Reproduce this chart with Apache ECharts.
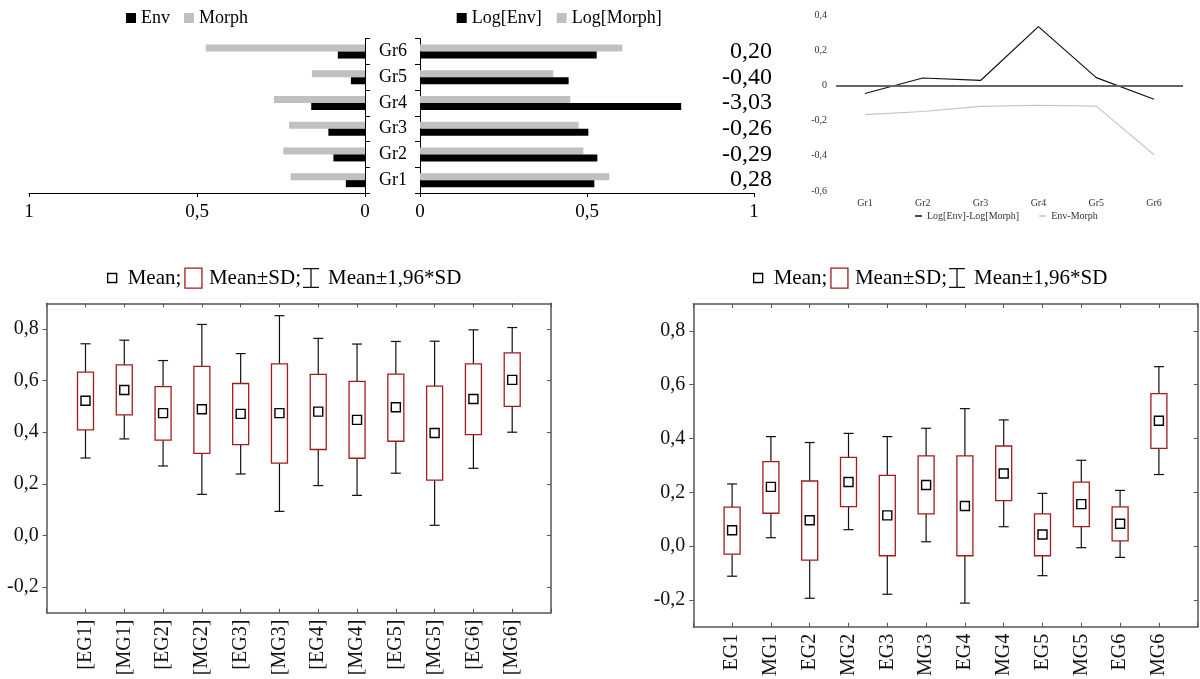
<!DOCTYPE html>
<html><head><meta charset="utf-8">
<script src="https://cdn.jsdelivr.net/npm/echarts@6/dist/echarts.min.js"></script>
<style>html,body{margin:0;padding:0;background:#fff}#c{width:1200px;height:679px}</style>
</head><body><div id="c"></div>
<script>
// ---------- DATA ----------
const groups = ['Gr1','Gr2','Gr3','Gr4','Gr5','Gr6'];
const envValues = [0.057,0.094,0.109,0.160,0.042,0.081];
const morphValues = [0.221,0.243,0.226,0.271,0.158,0.474];
const logEnvValues = [0.522,0.531,0.504,0.782,0.445,0.529];
const logMorphValues = [0.567,0.489,0.475,0.450,0.399,0.606];
const ratioLabels = ['0,28','-0,29','-0,26','-3,03','-0,40','0,20'];
const logDiffValues = [-0.046,0.042,0.028,0.334,0.044,-0.079];
const diffValues = [-0.166,-0.148,-0.119,-0.113,-0.118,-0.394];

const leftCats = ['[EG1]','[MG1]','[EG2]','[MG2]','[EG3]','[MG3]','[EG4]','[MG4]','[EG5]','[MG5]','[EG6]','[MG6]'];
const leftMean   = [0.522,0.564,0.474,0.489,0.471,0.474,0.480,0.448,0.497,0.397,0.529,0.603];
const leftSdLow  = [0.409,0.467,0.369,0.318,0.352,0.280,0.333,0.299,0.365,0.214,0.391,0.500];
const leftSdHigh = [0.633,0.661,0.577,0.655,0.589,0.665,0.624,0.597,0.625,0.579,0.665,0.708];
const leftCiLow  = [0.300,0.374,0.269,0.159,0.238,0.093,0.193,0.155,0.241,0.039,0.260,0.400];
const leftCiHigh = [0.743,0.757,0.678,0.818,0.705,0.852,0.764,0.742,0.752,0.753,0.797,0.806];

const rightCats = ['EG1','MG1','EG2','MG2','EG3','MG3','EG4','MG4','EG5','MG5','EG6','MG6'];
const rightMean   = [0.059,0.220,0.096,0.238,0.114,0.227,0.149,0.270,0.043,0.156,0.083,0.466];
const rightSdLow  = [-0.030,0.122,-0.052,0.147,-0.036,0.120,-0.036,0.169,-0.036,0.072,0.019,0.363];
const rightSdHigh = [0.145,0.314,0.242,0.330,0.263,0.335,0.335,0.372,0.120,0.238,0.146,0.567];
const rightCiLow  = [-0.112,0.031,-0.194,0.061,-0.179,0.016,-0.212,0.072,-0.110,-0.006,-0.042,0.266];
const rightCiHigh = [0.231,0.407,0.385,0.419,0.407,0.438,0.511,0.469,0.196,0.319,0.207,0.667];

const boxTicks = [-0.2,0,0.2,0.4,0.6,0.8];

// ---------- HELPERS ----------
const FONT = 'Liberation Serif';
const comma = v => String(+(+v).toFixed(2)).replace('.', ',');
const comma1 = v => (+v).toFixed(1).replace('.', ',');
const FRAME = '#555';
const BOXRED = '#a31c1c';

function whiskerItem(params, api) {
  const x = api.value(0);
  const lo = api.coord([x, api.value(1)]);
  const sdLo = api.coord([x, api.value(2)]);
  const sdHi = api.coord([x, api.value(3)]);
  const hi = api.coord([x, api.value(4)]);
  const c = 5;
  const st = {stroke:'#111', lineWidth:1.2};
  return {type:'group', children:[
    {type:'line', shape:{x1:hi[0],y1:hi[1],x2:sdHi[0],y2:sdHi[1]}, style:st},
    {type:'line', shape:{x1:lo[0],y1:lo[1],x2:sdLo[0],y2:sdLo[1]}, style:st},
    {type:'line', shape:{x1:hi[0]-c,y1:hi[1],x2:hi[0]+c,y2:hi[1]}, style:st},
    {type:'line', shape:{x1:lo[0]-c,y1:lo[1],x2:lo[0]+c,y2:lo[1]}, style:st}
  ]};
}
function boxItem(params, api) {
  const x = api.value(0);
  const a = api.coord([x, api.value(1)]);
  const b = api.coord([x, api.value(2)]);
  const w = 16;
  return {type:'rect', shape:{x:a[0]-w/2, y:b[1], width:w, height:a[1]-b[1]},
    style:{fill:'#fff', stroke:BOXRED, lineWidth:1.3}};
}

function boxSeries(cats, ciLo, sdLo, sdHi, ciHi, mean, xi, yi) {
  return [
    {type:'custom', name:'Mean±1,96*SD', xAxisIndex:xi, yAxisIndex:yi, z:2,
     renderItem: whiskerItem, encode:{x:0, y:[1,2,3,4]},
     data: cats.map((c,i)=>[c, ciLo[i], sdLo[i], sdHi[i], ciHi[i]])},
    {type:'custom', name:'Mean±SD;', xAxisIndex:xi, yAxisIndex:yi, z:3,
     renderItem: boxItem, encode:{x:0, y:[1,2]},
     data: cats.map((c,i)=>[c, sdLo[i], sdHi[i]])},
    {type:'scatter', name:'Mean;', xAxisIndex:xi, yAxisIndex:yi, z:4,
     symbol:'rect', symbolSize:9,
     itemStyle:{color:'#fff', borderColor:'#000', borderWidth:1.4, opacity:1},
     data: cats.map((c,i)=>[c, mean[i]])}
  ];
}

function boxAxes(cats, gi) {
  const catData = [''].concat(cats, ['']);
  const xs = [
    {type:'category', gridIndex:gi, data:catData, boundaryGap:false, position:'bottom',
     axisLine:{show:true, onZero:false, lineStyle:{color:FRAME, width:1.5}},
     axisTick:{show:true, inside:true, length:4, interval:0, lineStyle:{color:FRAME}},
     axisLabel:{rotate:90, fontSize:20, color:'#111', margin:7, fontFamily:FONT, interval:0},
     splitLine:{show:false}},
    {type:'category', gridIndex:gi, data:catData, boundaryGap:false, position:'top',
     axisLine:{show:true, onZero:false, lineStyle:{color:FRAME, width:1.5}},
     axisTick:{show:true, inside:true, length:4, interval:0, lineStyle:{color:FRAME}},
     axisLabel:{show:false}, splitLine:{show:false}}
  ];
  const ys = [
    {type:'value', gridIndex:gi, min:-0.3, max:0.9, position:'left',
     axisLine:{show:true, onZero:false, lineStyle:{color:FRAME, width:1.5}},
     axisTick:{show:true, length:4, customValues:boxTicks, lineStyle:{color:FRAME}},
     axisLabel:{customValues:boxTicks, formatter:comma1, fontSize:20, color:'#111', margin:8, fontFamily:FONT},
     splitLine:{show:false}},
    {type:'value', gridIndex:gi, min:-0.3, max:0.9, position:'right',
     axisLine:{show:true, onZero:false, lineStyle:{color:FRAME, width:1.5}},
     axisTick:{show:true, inside:true, length:4, customValues:boxTicks, lineStyle:{color:FRAME}},
     axisLabel:{show:false}, splitLine:{show:false}}
  ];
  return {xs, ys};
}

function boxLegends(dx) {
  const ts = {fontSize:21, color:'#000', fontFamily:FONT};
  const top = 267.5;
  return [
    {left:107+dx, top:top, padding:0, itemWidth:9, itemHeight:9, icon:'rect',
     textStyle:Object.assign({padding:[0,0,0,6]}, ts),
     data:[{name:'Mean;', itemStyle:{color:'#fff', borderColor:'#000', borderWidth:1.3}}]},
    {left:184.3+dx, top:top, padding:0, itemWidth:17, itemHeight:20, icon:'rect',
     textStyle:Object.assign({padding:[0,0,0,2]}, ts),
     data:[{name:'Mean±SD;', itemStyle:{color:'#fff', borderColor:BOXRED, borderWidth:1.3}}]},
    {left:303+dx, top:top, padding:0, itemWidth:16, itemHeight:20,
     icon:'path://M0,0H16V1.3H8.65V18.7H16V20H0V18.7H7.35V1.3H0Z',
     textStyle:Object.assign({padding:[0,0,0,4]}, ts),
     data:[{name:'Mean±1,96*SD', itemStyle:{color:'#111', borderWidth:0}}]}
  ];
}

const bl = boxAxes(leftCats, 3);
const br = boxAxes(rightCats, 4);

const option = {
  animation:false,
  backgroundColor:'#fff',
  textStyle:{fontFamily:FONT},
  grid:[
    {left:29, top:38.7, width:336, height:154.3},
    {left:420, top:38.7, width:334, height:154.3},
    {left:836, top:15, width:347, height:176},
    {left:46.7, top:303.3, width:504.3, height:309.4},
    {left:693.3, top:304, width:504.4, height:323.3}
  ],
  legend:[
    {left:126, top:9, padding:0, itemWidth:10, itemHeight:10, itemGap:14, icon:'rect',
     textStyle:{fontSize:18, color:'#000', fontFamily:FONT}, data:['Env','Morph']},
    {left:456.7, top:9, padding:0, itemWidth:10, itemHeight:10, itemGap:15, icon:'rect',
     textStyle:{fontSize:18, color:'#000', fontFamily:FONT}, data:['Log[Env]','Log[Morph]']},
    {left:915, top:211, padding:0, itemWidth:7, itemHeight:1.5, itemGap:20, icon:'rect',
     textStyle:{fontSize:10, color:'#333', fontFamily:FONT},
     data:['Log[Env]-Log[Morph]','Env-Morph']}
  ].concat(boxLegends(0), boxLegends(646)),
  xAxis:[
    {type:'value', gridIndex:0, min:0, max:1, interval:0.5, inverse:true,
     axisLine:{show:true, lineStyle:{color:'#000'}}, axisTick:{show:true, length:4, lineStyle:{color:'#000'}},
     axisLabel:{formatter:comma, fontSize:19, color:'#000', margin:10, fontFamily:FONT}, splitLine:{show:false}},
    {type:'value', gridIndex:1, min:0, max:1, interval:0.5,
     axisLine:{show:true, lineStyle:{color:'#000'}}, axisTick:{show:true, length:4, lineStyle:{color:'#000'}},
     axisLabel:{formatter:comma, fontSize:19, color:'#000', margin:10, fontFamily:FONT}, splitLine:{show:false}},
    {type:'category', gridIndex:2, data:groups, boundaryGap:true,
     axisLine:{show:false, onZero:false}, axisTick:{show:false},
     axisLabel:{fontSize:10, color:'#333', margin:7, fontFamily:FONT}},
    bl.xs[0], bl.xs[1], br.xs[0], br.xs[1]
  ],
  yAxis:[
    {type:'category', gridIndex:0, data:groups, position:'right',
     axisLine:{show:true, lineStyle:{color:'#000'}}, axisTick:{show:true, length:5, lineStyle:{color:'#000'}},
     axisLabel:{fontSize:18, color:'#000', margin:14, fontFamily:FONT, interval:0}},
    {type:'category', gridIndex:1, data:groups, position:'left',
     axisLine:{show:true, lineStyle:{color:'#000'}}, axisTick:{show:true, length:5, lineStyle:{color:'#000'}},
     axisLabel:{show:false}},
    {type:'category', gridIndex:1, data:ratioLabels, position:'right',
     axisLine:{show:false}, axisTick:{show:false},
     axisLabel:{fontSize:24, color:'#000', margin:18, align:'right', fontFamily:FONT, interval:0}},
    {type:'value', gridIndex:2, min:-0.6, max:0.4, interval:0.2,
     axisLine:{show:false}, axisTick:{show:false}, splitLine:{show:false},
     axisLabel:{formatter:comma, fontSize:10, color:'#333', margin:9, fontFamily:FONT}},
    bl.ys[0], bl.ys[1], br.ys[0], br.ys[1]
  ],
  series:[
    {type:'bar', name:'Morph', xAxisIndex:0, yAxisIndex:0, data:morphValues, barWidth:7, barGap:'0%',
     itemStyle:{color:'#c0c0c0'}},
    {type:'bar', name:'Env', xAxisIndex:0, yAxisIndex:0, data:envValues, barWidth:7, barGap:'0%',
     itemStyle:{color:'#000'}},
    {type:'bar', name:'Log[Morph]', xAxisIndex:1, yAxisIndex:1, data:logMorphValues, barWidth:7, barGap:'0%',
     itemStyle:{color:'#c0c0c0'}},
    {type:'bar', name:'Log[Env]', xAxisIndex:1, yAxisIndex:1, data:logEnvValues, barWidth:7, barGap:'0%',
     itemStyle:{color:'#000'}},
    {type:'line', name:'Log[Env]-Log[Morph]', xAxisIndex:2, yAxisIndex:3, data:logDiffValues,
     symbol:'none', lineStyle:{color:'#111', width:1.2}, itemStyle:{color:'#111'}, z:3,
     markLine:{silent:true, symbol:'none', label:{show:false},
       lineStyle:{color:'#666', width:2, type:'solid'}, data:[{yAxis:0}]}},
    {type:'line', name:'Env-Morph', xAxisIndex:2, yAxisIndex:3, data:diffValues,
     symbol:'none', lineStyle:{color:'#c4c4c4', width:1.1}, itemStyle:{color:'#c4c4c4'}}
  ].concat(
    boxSeries(leftCats, leftCiLow, leftSdLow, leftSdHigh, leftCiHigh, leftMean, 3, 4),
    boxSeries(rightCats, rightCiLow, rightSdLow, rightSdHigh, rightCiHigh, rightMean, 5, 6)
  )
};

const chart = echarts.init(document.getElementById('c'), null, {renderer:'canvas'});
chart.setOption(option);
</script>
</body></html>
